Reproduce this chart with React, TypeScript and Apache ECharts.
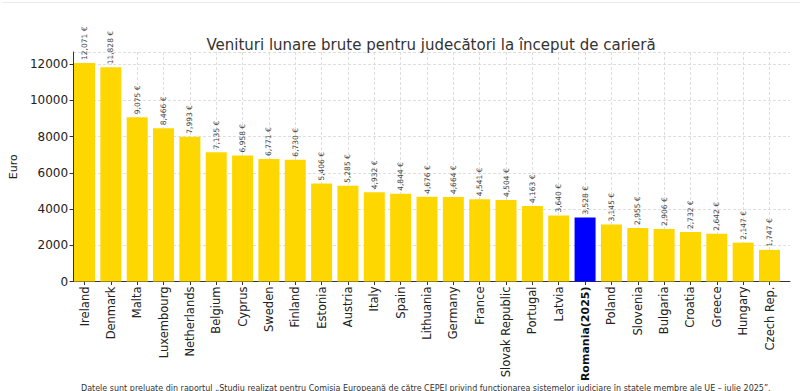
import React, { useEffect, useRef } from "react";
import * as echarts from "echarts";

const title = "Venituri lunare brute pentru judecători la început de carieră";
const yAxisName = "Euro";
const footnote =
  "Datele sunt preluate din raportul „Studiu realizat pentru Comisia Europeană de către CEPEJ privind funcționarea sistemelor judiciare în statele membre ale UE – iulie 2025”.";

const countries = [
  "Ireland", "Denmark", "Malta", "Luxembourg", "Netherlands", "Belgium", "Cyprus",
  "Sweden", "Finland", "Estonia", "Austria", "Italy", "Spain", "Lithuania",
  "Germany", "France", "Slovak Republic", "Portugal", "Latvia", "Romania(2025)",
  "Poland", "Slovenia", "Bulgaria", "Croatia", "Greece", "Hungary", "Czech Rep.",
];
const salaries = [
  12071, 11828, 9075, 8466, 7993, 7135, 6958, 6771, 6730, 5406, 5285, 4932, 4844,
  4676, 4664, 4541, 4504, 4163, 3640, 3528, 3145, 2955, 2906, 2732, 2642, 2147, 1747,
];
const highlighted = "Romania(2025)";
const yTicks = { min: 0, max: 12675, interval: 2000 };

const YELLOW = "#FFD700";
const BLUE = "#0000FF";
const FONT = "DejaVu Sans";

export default function App() {
  const ref = useRef<HTMLDivElement>(null);
  useEffect(() => {
    if (!ref.current) return;
    const chart = echarts.init(ref.current, undefined, { renderer: "svg" });
    const gridLine = { show: true, lineStyle: { color: "#d6d6d6", type: [3, 2] as any, width: 0.8 } };
    chart.setOption({
      animation: false,
      backgroundColor: "#ffffff",
      textStyle: { fontFamily: FONT },
      title: {
        text: title,
        left: 426,
        textAlign: "center",
        top: 32,
        textStyle: { fontFamily: FONT, fontSize: 15, fontWeight: "normal", color: "#333" },
      },
      graphic: [
        { type: "rect", shape: { x: 2, y: 2, width: 798, height: 1 }, style: { fill: "#ececec" }, silent: true },
        {
          type: "text",
          left: 81,
          top: 384,
          style: { text: footnote, fontFamily: FONT, fontSize: 8, fill: "#333" },
          silent: true,
        },
      ],
      grid: [
        { left: 63, right: 10, top: 52, bottom: 109.5 },
        { left: 84.5, right: 30.5, top: 52, bottom: 109.5 },
      ],
      xAxis: [
        {
          gridIndex: 0,
          type: "value",
          min: 0,
          max: 1,
          axisLine: { show: true, onZero: false, lineStyle: { color: "#333", width: 1 } },
          axisTick: { show: false },
          axisLabel: { show: false },
          splitLine: { show: false },
        },
        {
          gridIndex: 1,
          type: "category",
          data: countries,
          boundaryGap: false,
          axisLine: { show: false },
          axisTick: { show: true, length: 3.5, alignWithLabel: true, lineStyle: { color: "#333" } },
          splitLine: gridLine,
          axisLabel: {
            interval: 0,
            rotate: 90,
            margin: 5,
            fontFamily: FONT,
            fontSize: 11.5,
            color: "#222",
            formatter: (v: string) => (v === highlighted ? `{b|${v}}` : v),
            rich: { b: { fontWeight: "bold", fontFamily: FONT, fontSize: 11, color: "#111" } },
          },
        },
      ],
      yAxis: [
        {
          gridIndex: 0,
          type: "value",
          min: yTicks.min,
          max: yTicks.max,
          interval: yTicks.interval,
          name: yAxisName,
          nameLocation: "middle",
          nameGap: 43,
          nameTextStyle: { fontFamily: FONT, fontSize: 11, color: "#222" },
          axisLine: { show: true, lineStyle: { color: "#333", width: 1 } },
          axisTick: { show: true, length: 3.5, lineStyle: { color: "#333" } },
          axisLabel: {
            fontFamily: FONT,
            fontSize: 12,
            color: "#222",
            margin: 5,
            showMaxLabel: false,
            formatter: (v: number) => String(v),
          },
          splitLine: gridLine,
        },
        {
          gridIndex: 1,
          type: "value",
          min: yTicks.min,
          max: yTicks.max,
          show: false,
          splitLine: { show: false },
        },
      ],
      series: [
        {
          type: "bar",
          xAxisIndex: 1,
          yAxisIndex: 1,
          barWidth: 21,
          data: salaries.map((v, i) => ({
            value: v,
            itemStyle: { color: countries[i] === highlighted ? BLUE : YELLOW },
          })),
          label: {
            show: true,
            position: "top",
            rotate: 90,
            align: "left",
            verticalAlign: "middle",
            distance: 3,
            fontFamily: FONT,
            fontSize: 7.5,
            color: "#444",
            formatter: (p: any) => `${Number(p.value).toLocaleString("en-US")} €`,
          },
        },
      ],
    });
    return () => chart.dispose();
  }, []);
  return (
    <div
      ref={ref}
      style={{ position: "fixed", left: 0, top: 0, width: 800, height: 391 }}
    />
  );
}
